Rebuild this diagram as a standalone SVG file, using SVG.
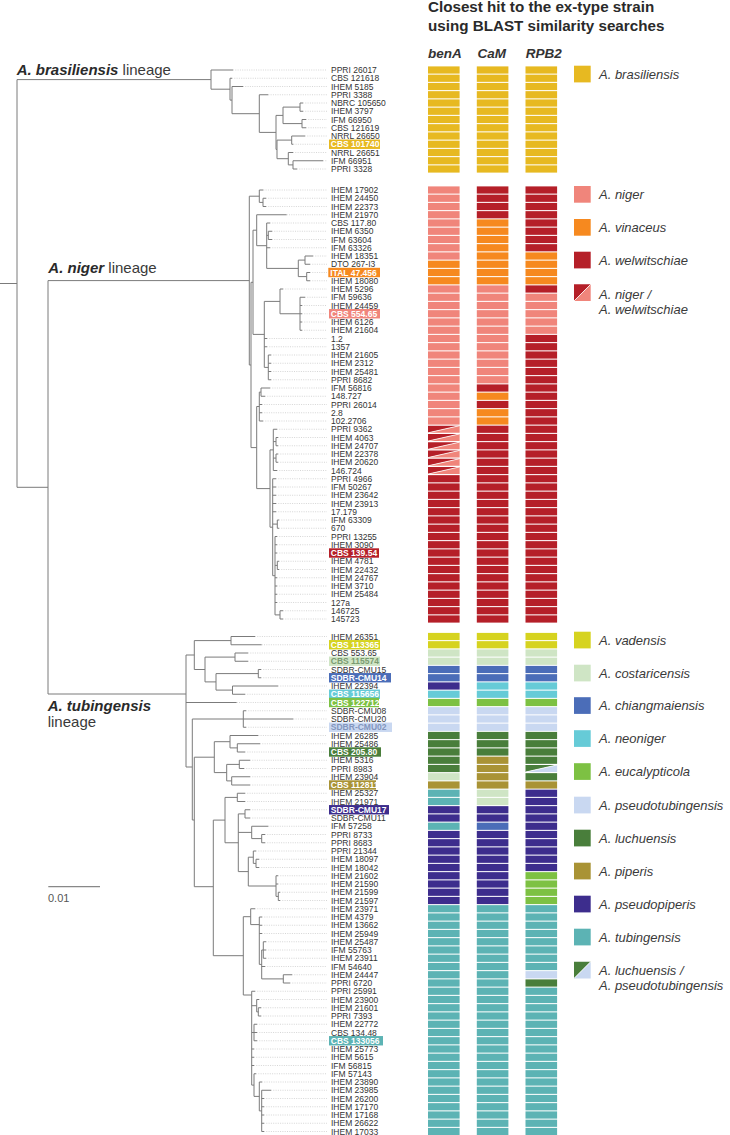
<svg xmlns="http://www.w3.org/2000/svg" xmlns:xlink="http://www.w3.org/1999/xlink" width="730" height="1135" viewBox="0 0 730 1135">
<style>
.br{fill:none;stroke:#7b7b7b;stroke-width:1}
.dt{fill:none;stroke:#c4c4c4;stroke-width:0.7;stroke-dasharray:1 1.3}
text.l{font-family:"Liberation Sans",Arial,sans-serif;font-size:8.5px;fill:#333}
text.h{font-weight:bold;fill:#fff}
.lg{font-family:"Liberation Sans",Arial,sans-serif;font-size:13px;font-style:italic;fill:#3a3a3a}
.hd{font-family:"Liberation Sans",Arial,sans-serif;font-size:15.2px;font-weight:bold;fill:#2a2a2a}
.ch2{font-family:"Liberation Sans",Arial,sans-serif;font-size:13.5px;font-weight:bold;font-style:italic;fill:#333}
.ln{font-family:"Liberation Sans",Arial,sans-serif;font-size:15px;fill:#3a3a3a}
.ln tspan.s{font-weight:bold;font-style:italic;fill:#2a2a2a}
.bra{fill:#E7B921}.N{fill:#F0857B}.V{fill:#F6891F}.W{fill:#B51F28}
.vd{fill:#D6D31F}.co{fill:#CFE5C5}.ch{fill:#4B6DB8}.ne{fill:#66CBD7}.eu{fill:#7DC143}.ps{fill:#C9D8F1}.lu{fill:#497E3B}.pi{fill:#A99335}.pp{fill:#3D2D8D}.tu{fill:#5CB3B4}
</style>
<defs>
<rect id="bA" x="428" y="-3.6" width="31.6" height="7.2"/>
<rect id="bC" x="476.8" y="-3.6" width="31.6" height="7.2"/>
<rect id="bR" x="525.5" y="-3.6" width="31.6" height="7.2"/>
<g id="sA"><polygon points="428,-3.6 459.6,-3.6 428,3.6" class="W"/><polygon points="459.6,-3.6 459.6,3.6 428,3.6" class="N"/><line x1="428" y1="3.6" x2="459.6" y2="-3.6" stroke="#fff" stroke-width="0.8"/></g>
<g id="sR"><polygon points="525.5,-3.6 557.1,-3.6 525.5,3.6" class="lu"/><polygon points="557.1,-3.6 557.1,3.6 525.5,3.6" class="ps"/><line x1="525.5" y1="3.6" x2="557.1" y2="-3.6" stroke="#fff" stroke-width="0.8"/></g>
</defs>

<g id="header">
<text class="hd" x="428" y="12">Closest hit to the ex-type strain</text>
<text class="hd" x="428" y="30.5">using BLAST similarity searches</text>
<text class="ch2" x="428" y="57.5">benA</text>
<text class="ch2" x="477.5" y="57.5">CaM</text>
<text class="ch2" x="525.7" y="57.5">RPB2</text>
</g>

<g id="lineages">
<text class="ln" x="16.7" y="74.5"><tspan class="s">A. brasiliensis</tspan> lineage</text>
<text class="ln" x="48.3" y="272.5"><tspan class="s">A. niger</tspan> lineage</text>
<text class="ln" x="47.7" y="711"><tspan class="s">A. tubingensis</tspan></text>
<text class="ln" x="47.7" y="726.5">lineage</text>
</g>

<g id="scalebar">
<path d="M48.3,886.7H100" stroke="#888" stroke-width="1.3"/>
<text x="48" y="902" font-family="Liberation Sans, Arial, sans-serif" font-size="11" fill="#555">0.01</text>
</g>

<g id="connectors">
<path class="br" d="M0,283.5H17M17,79.6V487.3M17,79.6H211M17,487.3H48M48,280.6V694M48,280.6H249.3M48,694H186
M211,70V89.2M211,70H233M211,89.2H230M230,78.25V100.1M230,78.25H232M230,100.1H232M232,86.5V113.7M232,86.5H243M232,113.7H259.3M259.3,94.75V132.4M259.3,94.75H268.3M259.3,132.4H276M276,115.4V149.4M276,115.4H283M276,149.4H277M283,107.1V123.6M283,107.1H300M283,123.6H302M300,103V111.25M300,103H303M300,111.25H303M302,119.5V127.75M302,119.5H306M302,127.75H306M277,140.1V158.7M277,140.1H291.7M277,158.7H288.3M291.7,136V144.25M291.7,136H305M291.7,144.25H293.3M288.3,152.5V164.9M288.3,152.5H293M288.3,164.9H293M293,160.75V169M293,160.75H323M293,169H297
M249.3,196.2V365M249.3,196.2H259.3M249.3,365H251M259.3,190V202.4M259.3,190H263.3M259.3,202.4H263M263,198.25V206.5M263,198.25H266M263,206.5H266M251,282.3V447.6M251,282.3H253M251,447.6H256.7M253,230.2V334.4M253,230.2H256.7M253,334.4H264.3M256.7,214.75V245.7M256.7,214.75H286.7M256.7,245.7H266.7M266.7,223V268.4M266.7,223H270M266.7,235.4H268.3M266.7,247.75H270M266.7,268.4H298.3M268.3,231.25V239.5M268.3,231.25H272M268.3,239.5H272M298.3,260.1V276.6M298.3,260.1H305M298.3,276.6H306.7M305,256V264.25M305,256H313M305,264.25H310M306.7,272.5V280.75M306.7,272.5H310M306.7,280.75H310M264.3,301.4V367.4M264.3,301.4H280M264.3,338.5H267M264.3,346.75H267M264.3,367.4H268.3M280,289V313.75M280,289H283M280,313.75H300M300,297.25V330.25M300,297.25H305M300,305.5H302M300,313.75H302M300,322H302M300,330.25H302M268.3,355V379.75M268.3,355H271M268.3,363.25H271M268.3,371.5H271M268.3,379.75H271M256.7,406.5V488.6M256.7,406.5H259.3M256.7,488.6H270M259.3,392.1V421M259.3,392.1H261M259.3,404.5H262M259.3,412.75H262M259.3,421H263M261,388V396.25M261,388H270M261,396.25H265M270,449.9V527.2M270,449.9H273.3M270,527.2H272.7M273.3,429.25V470.5M273.3,429.25H277M273.3,441.6H276M273.3,458.1H276M273.3,470.5H277M276,437.5V445.75M276,437.5H278M276,445.75H278M276,454V462.25M276,454H278M276,462.25H278M272.7,478.75V575.7M272.7,478.75H276M272.7,487H276M272.7,495.25H276M272.7,503.5H276M272.7,511.75H276M272.7,524.1H277.3M272.7,575.7H275M277.3,520V528.25M277.3,520H279M277.3,528.25H279M275,536.5V614.9M275,536.5H277M275,544.75H277M275,553H277M275,565.4H277.3M275,577.75H277M275,586H277M275,594.25H277M275,602.5H277M275,614.9H280M277.3,561.25V569.5M277.3,561.25H279M277.3,569.5H279M280,610.75V619M280,610.75H283M280,619H283
M186,655V767M186,655H194.3M186,702.5H236.7M186,767H192.3M194.3,640.6V669.5M194.3,640.6H231M194.3,669.5H205M231,636.5V644.75M231,636.5H255M231,644.75H261.7M205,657.1V681.9M205,657.1H235M205,681.9H216M235,653V661.25M235,653H248M235,661.25H248M216,673.6V690.1M216,673.6H258.3M216,690.1H232.5M258.3,669.5V677.75M258.3,669.5H261M258.3,677.75H261M232.5,686V694.25M232.5,686H278M232.5,694.25H245
M192.3,719V820M192.3,719H243.3M192.3,820H194.3M243.3,710.75V727.25M243.3,710.75H246M243.3,719H293.3M243.3,727.25H246M194.3,757.2V886.7M194.3,757.2H214.3M194.3,886.7H213.3M214.3,741.7V772.6M214.3,741.7H230M214.3,772.6H226.7M230,735.5V747.9M230,735.5H258.3M230,747.9H237.3M237.3,743.75V752M237.3,743.75H260M237.3,752H245M226.7,764.4V780.9M226.7,764.4H239.3M226.7,780.9H231.7M239.3,760.25V768.5M239.3,760.25H250M239.3,768.5H244M231.7,776.75V785M231.7,776.75H250M231.7,785H250
M213.3,820.1V955.7M213.3,820.1H225M213.3,955.7H243.3M225,797.4V842.75M225,797.4H237.3M225,842.75H238.3M237.3,793.25V801.5M237.3,793.25H245M237.3,801.5H245M238.3,813.9V871.6M238.3,813.9H245M238.3,832.4H251.7M238.3,871.6H248.3M245,809.75V818M245,809.75H250M245,818H250M251.7,826.25V838.6M251.7,826.25H268.3M251.7,838.6H261.7M261.7,834.5V842.75M261.7,834.5H265M261.7,842.75H265M248.3,857.2V886M248.3,857.2H253.3M248.3,886H276M253.3,851V863.4M253.3,851H256M253.3,863.4H256M256,859.25V867.5M256,859.25H259M256,867.5H259M276,875.75V896.4M276,875.75H278M276,884H278M276,896.4H278.3M278.3,892.25V900.5M278.3,892.25H280M278.3,900.5H280
M243.3,916.7V995M243.3,916.7H250.7M243.3,995H251.7M250.7,908.75V924.6M250.7,908.75H255M250.7,924.6H259.3M259.3,917V964.4M259.3,917H262M259.3,925.25H262M259.3,933.5H262M259.3,964.4H261.7M261.7,950V978.9M261.7,950H263.3M261.7,966.5H265M261.7,978.9H283.3M263.3,941.75V958.25M263.3,941.75H266M263.3,950H266M263.3,958.25H266M283.3,974.75V983M283.3,974.75H292M283.3,983H290
M251.7,991.25V1085.1M251.7,991.25H255M251.7,1005.7H256.7M251.7,1032.5H254M251.7,1049H254M251.7,1057.25H254M251.7,1065.5H254M251.7,1085.1H254M256.7,999.5V1011.9M256.7,999.5H259M256.7,1011.9H258.3M258.3,1007.75V1016M258.3,1007.75H261M258.3,1016H261M254,1024.25V1040.75M254,1024.25H257M254,1032.5H257M254,1040.75H257M254,1073.75V1096.4M254,1073.75H256M254,1096.4H259.3M259.3,1082V1110.9M259.3,1082H262M259.3,1110.9H261.7M261.7,1090.25V1131.5M261.7,1090.25H271M261.7,1098.5H264M261.7,1106.75H264M261.7,1115H264M261.7,1123.25H264M261.7,1131.5H264"/>
<path class="dt" d="M233,70H327M232,78.25H327M243,86.5H327M268.3,94.75H327M303,103H327M303,111.25H327M306,119.5H327M306,127.75H327M305,136H327M293.3,144.25H327M293,152.5H327M323,160.75H327M297,169H327
M263.3,190H327M266,198.25H327M266,206.5H327M286.7,214.75H327M270,223H327M272,231.25H327M272,239.5H327M270,247.75H327M313,256H327M310,264.25H327M310,272.5H327M310,280.75H327M283,289H327M305,297.25H327M302,305.5H327M302,313.75H327M302,322H327M302,330.25H327M267,338.5H327M267,346.75H327M271,355H327M271,363.25H327M271,371.5H327M271,379.75H327M270,388H327M265,396.25H327M262,404.5H327M262,412.75H327M263,421H327M277,429.25H327M278,437.5H327M278,445.75H327M278,454H327M278,462.25H327M277,470.5H327M276,478.75H327M276,487H327M276,495.25H327M276,503.5H327M276,511.75H327M279,520H327M279,528.25H327M277,536.5H327M277,544.75H327M277,553H327M279,561.25H327M279,569.5H327M277,577.75H327M277,586H327M277,594.25H327M277,602.5H327M283,610.75H327M283,619H327
M255,636.5H327M261.7,644.75H327M248,653H327M248,661.25H327M261,669.5H327M261,677.75H327M278,686H327M245,694.25H327M236.7,702.5H327M246,710.75H327M293.3,719H327M246,727.25H327M258.3,735.5H327M260,743.75H327M245,752H327M250,760.25H327M244,768.5H327M250,776.75H327M250,785H327M245,793.25H327M245,801.5H327M250,809.75H327M250,818H327M268.3,826.25H327M265,834.5H327M265,842.75H327M256,851H327M259,859.25H327M259,867.5H327M278,875.75H327M278,884H327M280,892.25H327M280,900.5H327M255,908.75H327M262,917H327M262,925.25H327M262,933.5H327M266,941.75H327M266,950H327M266,958.25H327M265,966.5H327M292,974.75H327M290,983H327M255,991.25H327M259,999.5H327M261,1007.75H327M261,1016H327M257,1024.25H327M257,1032.5H327M257,1040.75H327M254,1049H327M254,1057.25H327M254,1065.5H327M256,1073.75H327M262,1082H327M271,1090.25H327M264,1098.5H327M264,1106.75H327M264,1115H327M264,1123.25H327M264,1131.5H327"/>
</g>

<g id="legend">
<rect x="574" y="65.7" width="16.7" height="16.7" class="bra"/><text class="lg" x="599" y="78.5">A. brasiliensis</text>
<rect x="574" y="186" width="16.7" height="16.7" class="N"/><text class="lg" x="599" y="198.8">A. niger</text>
<rect x="574" y="219" width="16.7" height="16.7" class="V"/><text class="lg" x="599" y="231.8">A. vinaceus</text>
<rect x="574" y="251.7" width="16.7" height="16.7" class="W"/><text class="lg" x="599" y="264.5">A. welwitschiae</text>
<polygon points="574,284.3 590.7,284.3 574,301" class="W"/><polygon points="590.7,284.3 590.7,301 574,301" class="N"/><line x1="574" y1="301" x2="590.7" y2="284.3" stroke="#fff" stroke-width="0.8"/>
<text class="lg" x="599" y="298.8">A. niger /</text><text class="lg" x="599" y="313.8">A. welwitschiae</text>
<rect x="574" y="631.7" width="16.7" height="16.7" class="vd"/><text class="lg" x="599" y="644.5">A. vadensis</text>
<rect x="574" y="664.7" width="16.7" height="16.7" class="co"/><text class="lg" x="599" y="677.5">A. costaricensis</text>
<rect x="574" y="697.2" width="16.7" height="16.7" class="ch"/><text class="lg" x="599" y="710">A. chiangmaiensis</text>
<rect x="574" y="730.2" width="16.7" height="16.7" class="ne"/><text class="lg" x="599" y="743">A. neoniger</text>
<rect x="574" y="763.2" width="16.7" height="16.7" class="eu"/><text class="lg" x="599" y="776">A. eucalypticola</text>
<rect x="574" y="796.7" width="16.7" height="16.7" class="ps"/><text class="lg" x="599" y="809.5">A. pseudotubingensis</text>
<rect x="574" y="829.7" width="16.7" height="16.7" class="lu"/><text class="lg" x="599" y="842.5">A. luchuensis</text>
<rect x="574" y="862.7" width="16.7" height="16.7" class="pi"/><text class="lg" x="599" y="875.5">A. piperis</text>
<rect x="574" y="895.7" width="16.7" height="16.7" class="pp"/><text class="lg" x="599" y="908.5">A. pseudopiperis</text>
<rect x="574" y="928.7" width="16.7" height="16.7" class="tu"/><text class="lg" x="599" y="941.5">A. tubingensis</text>
<polygon points="574,961.7 590.7,961.7 574,978.4" class="lu"/><polygon points="590.7,961.7 590.7,978.4 574,978.4" class="ps"/><line x1="574" y1="978.4" x2="590.7" y2="961.7" stroke="#fff" stroke-width="0.8"/>
<text class="lg" x="599" y="974.5">A. luchuensis /</text><text class="lg" x="599" y="990">A. pseudotubingensis</text>
</g>

<g id="brasiliensis-strains">
<g id="b01" transform="translate(0,70)"><text class="l" x="331" y="3">PPRI 26017</text><use href="#bA" class="bra"/><use href="#bC" class="bra"/><use href="#bR" class="bra"/></g>
<g id="b02" transform="translate(0,78.25)"><text class="l" x="331" y="3">CBS 121618</text><use href="#bA" class="bra"/><use href="#bC" class="bra"/><use href="#bR" class="bra"/></g>
<g id="b03" transform="translate(0,86.5)"><text class="l" x="331" y="3">IHEM 5185</text><use href="#bA" class="bra"/><use href="#bC" class="bra"/><use href="#bR" class="bra"/></g>
<g id="b04" transform="translate(0,94.75)"><text class="l" x="331" y="3">PPRI 3388</text><use href="#bA" class="bra"/><use href="#bC" class="bra"/><use href="#bR" class="bra"/></g>
<g id="b05" transform="translate(0,103)"><text class="l" x="331" y="3">NBRC 105650</text><use href="#bA" class="bra"/><use href="#bC" class="bra"/><use href="#bR" class="bra"/></g>
<g id="b06" transform="translate(0,111.25)"><text class="l" x="331" y="3">IHEM 3797</text><use href="#bA" class="bra"/><use href="#bC" class="bra"/><use href="#bR" class="bra"/></g>
<g id="b07" transform="translate(0,119.5)"><text class="l" x="331" y="3">IFM 66950</text><use href="#bA" class="bra"/><use href="#bC" class="bra"/><use href="#bR" class="bra"/></g>
<g id="b08" transform="translate(0,127.75)"><text class="l" x="331" y="3">CBS 121619</text><use href="#bA" class="bra"/><use href="#bC" class="bra"/><use href="#bR" class="bra"/></g>
<g id="b09" transform="translate(0,136)"><text class="l" x="331" y="3">NRRL 26650</text><use href="#bA" class="bra"/><use href="#bC" class="bra"/><use href="#bR" class="bra"/></g>
<g id="b10" transform="translate(0,144.25)"><rect x="329" y="-4.7" width="51" height="9.4" class="bra"/><text class="l h" x="330.8" y="3">CBS 101740</text><use href="#bA" class="bra"/><use href="#bC" class="bra"/><use href="#bR" class="bra"/></g>
<g id="b11" transform="translate(0,152.5)"><text class="l" x="331" y="3">NRRL 26651</text><use href="#bA" class="bra"/><use href="#bC" class="bra"/><use href="#bR" class="bra"/></g>
<g id="b12" transform="translate(0,160.75)"><text class="l" x="331" y="3">IFM 66951</text><use href="#bA" class="bra"/><use href="#bC" class="bra"/><use href="#bR" class="bra"/></g>
<g id="b13" transform="translate(0,169)"><text class="l" x="331" y="3">PPRI 3328</text><use href="#bA" class="bra"/><use href="#bC" class="bra"/><use href="#bR" class="bra"/></g>
</g>

<g id="niger-strains">
<g id="n01" transform="translate(0,190)"><text class="l" x="331" y="3">IHEM 17902</text><use href="#bA" class="N"/><use href="#bC" class="W"/><use href="#bR" class="W"/></g>
<g id="n02" transform="translate(0,198.25)"><text class="l" x="331" y="3">IHEM 24450</text><use href="#bA" class="N"/><use href="#bC" class="W"/><use href="#bR" class="W"/></g>
<g id="n03" transform="translate(0,206.5)"><text class="l" x="331" y="3">IHEM 22373</text><use href="#bA" class="N"/><use href="#bC" class="W"/><use href="#bR" class="W"/></g>
<g id="n04" transform="translate(0,214.75)"><text class="l" x="331" y="3">IHEM 21970</text><use href="#bA" class="N"/><use href="#bC" class="W"/><use href="#bR" class="W"/></g>
<g id="n05" transform="translate(0,223)"><text class="l" x="331" y="3">CBS 117.80</text><use href="#bA" class="N"/><use href="#bC" class="V"/><use href="#bR" class="W"/></g>
<g id="n06" transform="translate(0,231.25)"><text class="l" x="331" y="3">IHEM 6350</text><use href="#bA" class="N"/><use href="#bC" class="V"/><use href="#bR" class="W"/></g>
<g id="n07" transform="translate(0,239.5)"><text class="l" x="331" y="3">IFM 63604</text><use href="#bA" class="N"/><use href="#bC" class="V"/><use href="#bR" class="W"/></g>
<g id="n08" transform="translate(0,247.75)"><text class="l" x="331" y="3">IFM 63326</text><use href="#bA" class="N"/><use href="#bC" class="V"/><use href="#bR" class="W"/></g>
<g id="n09" transform="translate(0,256)"><text class="l" x="331" y="3">IHEM 18351</text><use href="#bA" class="N"/><use href="#bC" class="V"/><use href="#bR" class="V"/></g>
<g id="n10" transform="translate(0,264.25)"><text class="l" x="331" y="3">DTO 267-I3</text><use href="#bA" class="V"/><use href="#bC" class="V"/><use href="#bR" class="V"/></g>
<g id="n11" transform="translate(0,272.5)"><rect x="328.3" y="-4.7" width="51.7" height="9.4" class="V"/><text class="l h" x="330.3" y="3">ITAL 47.456</text><use href="#bA" class="V"/><use href="#bC" class="V"/><use href="#bR" class="V"/></g>
<g id="n12" transform="translate(0,280.75)"><text class="l" x="331" y="3">IHEM 18080</text><use href="#bA" class="V"/><use href="#bC" class="V"/><use href="#bR" class="V"/></g>
<g id="n13" transform="translate(0,289)"><text class="l" x="331" y="3">IHEM 5296</text><use href="#bA" class="N"/><use href="#bC" class="N"/><use href="#bR" class="W"/></g>
<g id="n14" transform="translate(0,297.25)"><text class="l" x="331" y="3">IFM 59636</text><use href="#bA" class="N"/><use href="#bC" class="N"/><use href="#bR" class="N"/></g>
<g id="n15" transform="translate(0,305.5)"><text class="l" x="331" y="3">IHEM 24459</text><use href="#bA" class="N"/><use href="#bC" class="N"/><use href="#bR" class="N"/></g>
<g id="n16" transform="translate(0,313.75)"><rect x="329" y="-4.7" width="51" height="9.4" class="N"/><text class="l h" x="330.8" y="3">CBS 554.65</text><use href="#bA" class="N"/><use href="#bC" class="N"/><use href="#bR" class="N"/></g>
<g id="n17" transform="translate(0,322)"><text class="l" x="331" y="3">IHEM 6126</text><use href="#bA" class="N"/><use href="#bC" class="N"/><use href="#bR" class="N"/></g>
<g id="n18" transform="translate(0,330.25)"><text class="l" x="331" y="3">IHEM 21604</text><use href="#bA" class="N"/><use href="#bC" class="N"/><use href="#bR" class="N"/></g>
<g id="n19" transform="translate(0,338.5)"><text class="l" x="331" y="3">1.2</text><use href="#bA" class="N"/><use href="#bC" class="N"/><use href="#bR" class="W"/></g>
<g id="n20" transform="translate(0,346.75)"><text class="l" x="331" y="3">1357</text><use href="#bA" class="N"/><use href="#bC" class="N"/><use href="#bR" class="W"/></g>
<g id="n21" transform="translate(0,355)"><text class="l" x="331" y="3">IHEM 21605</text><use href="#bA" class="N"/><use href="#bC" class="N"/><use href="#bR" class="W"/></g>
<g id="n22" transform="translate(0,363.25)"><text class="l" x="331" y="3">IHEM 2312</text><use href="#bA" class="N"/><use href="#bC" class="N"/><use href="#bR" class="W"/></g>
<g id="n23" transform="translate(0,371.5)"><text class="l" x="331" y="3">IHEM 25481</text><use href="#bA" class="N"/><use href="#bC" class="N"/><use href="#bR" class="W"/></g>
<g id="n24" transform="translate(0,379.75)"><text class="l" x="331" y="3">PPRI 8682</text><use href="#bA" class="N"/><use href="#bC" class="N"/><use href="#bR" class="W"/></g>
<g id="n25" transform="translate(0,388)"><text class="l" x="331" y="3">IFM 56816</text><use href="#bA" class="N"/><use href="#bC" class="W"/><use href="#bR" class="W"/></g>
<g id="n26" transform="translate(0,396.25)"><text class="l" x="331" y="3">148.727</text><use href="#bA" class="N"/><use href="#bC" class="V"/><use href="#bR" class="W"/></g>
<g id="n27" transform="translate(0,404.5)"><text class="l" x="331" y="3">PPRI 26014</text><use href="#bA" class="N"/><use href="#bC" class="W"/><use href="#bR" class="W"/></g>
<g id="n28" transform="translate(0,412.75)"><text class="l" x="331" y="3">2.8</text><use href="#bA" class="N"/><use href="#bC" class="V"/><use href="#bR" class="W"/></g>
<g id="n29" transform="translate(0,421)"><text class="l" x="331" y="3">102.2706</text><use href="#bA" class="N"/><use href="#bC" class="V"/><use href="#bR" class="W"/></g>
<g id="n30" transform="translate(0,429.25)"><text class="l" x="331" y="3">PPRI 9362</text><use href="#sA"/><use href="#bC" class="W"/><use href="#bR" class="W"/></g>
<g id="n31" transform="translate(0,437.5)"><text class="l" x="331" y="3">IHEM 4063</text><use href="#sA"/><use href="#bC" class="W"/><use href="#bR" class="W"/></g>
<g id="n32" transform="translate(0,445.75)"><text class="l" x="331" y="3">IHEM 24707</text><use href="#sA"/><use href="#bC" class="W"/><use href="#bR" class="W"/></g>
<g id="n33" transform="translate(0,454)"><text class="l" x="331" y="3">IHEM 22378</text><use href="#sA"/><use href="#bC" class="W"/><use href="#bR" class="W"/></g>
<g id="n34" transform="translate(0,462.25)"><text class="l" x="331" y="3">IHEM 20620</text><use href="#sA"/><use href="#bC" class="W"/><use href="#bR" class="W"/></g>
<g id="n35" transform="translate(0,470.5)"><text class="l" x="331" y="3">146.724</text><use href="#sA"/><use href="#bC" class="W"/><use href="#bR" class="W"/></g>
<g id="n36" transform="translate(0,478.75)"><text class="l" x="331" y="3">PPRI 4966</text><use href="#bA" class="W"/><use href="#bC" class="W"/><use href="#bR" class="W"/></g>
<g id="n37" transform="translate(0,487)"><text class="l" x="331" y="3">IFM 50267</text><use href="#bA" class="W"/><use href="#bC" class="W"/><use href="#bR" class="W"/></g>
<g id="n38" transform="translate(0,495.25)"><text class="l" x="331" y="3">IHEM 23642</text><use href="#bA" class="W"/><use href="#bC" class="W"/><use href="#bR" class="W"/></g>
<g id="n39" transform="translate(0,503.5)"><text class="l" x="331" y="3">IHEM 23913</text><use href="#bA" class="W"/><use href="#bC" class="W"/><use href="#bR" class="W"/></g>
<g id="n40" transform="translate(0,511.75)"><text class="l" x="331" y="3">17.179</text><use href="#bA" class="W"/><use href="#bC" class="W"/><use href="#bR" class="W"/></g>
<g id="n41" transform="translate(0,520)"><text class="l" x="331" y="3">IFM 63309</text><use href="#bA" class="W"/><use href="#bC" class="W"/><use href="#bR" class="W"/></g>
<g id="n42" transform="translate(0,528.25)"><text class="l" x="331" y="3">670</text><use href="#bA" class="W"/><use href="#bC" class="W"/><use href="#bR" class="W"/></g>
<g id="n43" transform="translate(0,536.5)"><text class="l" x="331" y="3">PPRI 13255</text><use href="#bA" class="W"/><use href="#bC" class="W"/><use href="#bR" class="W"/></g>
<g id="n44" transform="translate(0,544.75)"><text class="l" x="331" y="3">IHEM 3090</text><use href="#bA" class="W"/><use href="#bC" class="W"/><use href="#bR" class="W"/></g>
<g id="n45" transform="translate(0,553)"><rect x="329" y="-4.7" width="50" height="9.4" class="W"/><text class="l h" x="330.8" y="3">CBS 139.54</text><use href="#bA" class="W"/><use href="#bC" class="W"/><use href="#bR" class="W"/></g>
<g id="n46" transform="translate(0,561.25)"><text class="l" x="331" y="3">IHEM 4781</text><use href="#bA" class="W"/><use href="#bC" class="W"/><use href="#bR" class="W"/></g>
<g id="n47" transform="translate(0,569.5)"><text class="l" x="331" y="3">IHEM 22432</text><use href="#bA" class="W"/><use href="#bC" class="W"/><use href="#bR" class="W"/></g>
<g id="n48" transform="translate(0,577.75)"><text class="l" x="331" y="3">IHEM 24767</text><use href="#bA" class="W"/><use href="#bC" class="W"/><use href="#bR" class="W"/></g>
<g id="n49" transform="translate(0,586)"><text class="l" x="331" y="3">IHEM 3710</text><use href="#bA" class="W"/><use href="#bC" class="W"/><use href="#bR" class="W"/></g>
<g id="n50" transform="translate(0,594.25)"><text class="l" x="331" y="3">IHEM 25484</text><use href="#bA" class="W"/><use href="#bC" class="W"/><use href="#bR" class="W"/></g>
<g id="n51" transform="translate(0,602.5)"><text class="l" x="331" y="3">127a</text><use href="#bA" class="W"/><use href="#bC" class="W"/><use href="#bR" class="W"/></g>
<g id="n52" transform="translate(0,610.75)"><text class="l" x="331" y="3">146725</text><use href="#bA" class="W"/><use href="#bC" class="W"/><use href="#bR" class="W"/></g>
<g id="n53" transform="translate(0,619)"><text class="l" x="331" y="3">145723</text><use href="#bA" class="W"/><use href="#bC" class="W"/><use href="#bR" class="W"/></g>
</g>

<g id="tubingensis-strains">
<g id="t01" transform="translate(0,636.5)"><text class="l" x="331" y="3">IHEM 26351</text><use href="#bA" class="vd"/><use href="#bC" class="vd"/><use href="#bR" class="vd"/></g>
<g id="t02" transform="translate(0,644.75)"><rect x="329" y="-4.7" width="51" height="9.4" class="vd"/><text class="l h" x="330.8" y="3">CBS 113365</text><use href="#bA" class="vd"/><use href="#bC" class="vd"/><use href="#bR" class="vd"/></g>
<g id="t03" transform="translate(0,653)"><text class="l" x="331" y="3">CBS 553.65</text><use href="#bA" class="co"/><use href="#bC" class="co"/><use href="#bR" class="co"/></g>
<g id="t04" transform="translate(0,661.25)"><rect x="329" y="-4.7" width="51" height="9.4" class="co"/><text class="l h" x="330.8" y="3" style="fill:#7a9a70">CBS 115574</text><use href="#bA" class="co"/><use href="#bC" class="co"/><use href="#bR" class="co"/></g>
<g id="t05" transform="translate(0,669.5)"><text class="l" x="331" y="3">SDBR-CMU15</text><use href="#bA" class="ch"/><use href="#bC" class="ch"/><use href="#bR" class="ch"/></g>
<g id="t06" transform="translate(0,677.75)"><rect x="329" y="-4.7" width="62" height="9.4" class="ch"/><text class="l h" x="330.8" y="3">SDBR-CMU14</text><use href="#bA" class="ch"/><use href="#bC" class="ch"/><use href="#bR" class="ch"/></g>
<g id="t07" transform="translate(0,686)"><text class="l" x="331" y="3">IHEM 22394</text><use href="#bA" class="pp"/><use href="#bC" class="ne"/><use href="#bR" class="ne"/></g>
<g id="t08" transform="translate(0,694.25)"><rect x="329" y="-4.7" width="51" height="9.4" class="ne"/><text class="l h" x="330.8" y="3">CBS 115656</text><use href="#bA" class="ne"/><use href="#bC" class="ne"/><use href="#bR" class="ne"/></g>
<g id="t09" transform="translate(0,702.5)"><rect x="329" y="-4.7" width="50" height="9.4" class="eu"/><text class="l h" x="330.8" y="3">CBS 122712</text><use href="#bA" class="eu"/><use href="#bC" class="eu"/><use href="#bR" class="eu"/></g>
<g id="t10" transform="translate(0,710.75)"><text class="l" x="331" y="3">SDBR-CMU08</text><use href="#bA" class="ps"/><use href="#bC" class="ps"/><use href="#bR" class="ps"/></g>
<g id="t11" transform="translate(0,719)"><text class="l" x="331" y="3">SDBR-CMU20</text><use href="#bA" class="ps"/><use href="#bC" class="ps"/><use href="#bR" class="ps"/></g>
<g id="t12" transform="translate(0,727.25)"><rect x="329" y="-4.7" width="63" height="9.4" class="ps"/><text class="l h" x="330.8" y="3" style="fill:#8295bd">SDBR-CMU02</text><use href="#bA" class="ps"/><use href="#bC" class="ps"/><use href="#bR" class="ps"/></g>
<g id="t13" transform="translate(0,735.5)"><text class="l" x="331" y="3">IHEM 26285</text><use href="#bA" class="lu"/><use href="#bC" class="lu"/><use href="#bR" class="lu"/></g>
<g id="t14" transform="translate(0,743.75)"><text class="l" x="331" y="3">IHEM 25486</text><use href="#bA" class="lu"/><use href="#bC" class="lu"/><use href="#bR" class="lu"/></g>
<g id="t15" transform="translate(0,752)"><rect x="329" y="-4.7" width="52" height="9.4" class="lu"/><text class="l h" x="330.8" y="3">CBS 205.80</text><use href="#bA" class="lu"/><use href="#bC" class="lu"/><use href="#bR" class="lu"/></g>
<g id="t16" transform="translate(0,760.25)"><text class="l" x="331" y="3">IHEM 5316</text><use href="#bA" class="lu"/><use href="#bC" class="pi"/><use href="#bR" class="lu"/></g>
<g id="t17" transform="translate(0,768.5)"><text class="l" x="331" y="3">PPRI 8983</text><use href="#bA" class="lu"/><use href="#bC" class="pi"/><use href="#sR"/></g>
<g id="t18" transform="translate(0,776.75)"><text class="l" x="331" y="3">IHEM 23904</text><use href="#bA" class="co"/><use href="#bC" class="pi"/><use href="#bR" class="lu"/></g>
<g id="t19" transform="translate(0,785)"><rect x="329" y="-4.7" width="47" height="9.4" class="pi"/><text class="l h" x="330.8" y="3">CBS 112811</text><use href="#bA" class="pi"/><use href="#bC" class="pi"/><use href="#bR" class="pi"/></g>
<g id="t20" transform="translate(0,793.25)"><text class="l" x="331" y="3">IHEM 25327</text><use href="#bA" class="tu"/><use href="#bC" class="co"/><use href="#bR" class="pp"/></g>
<g id="t21" transform="translate(0,801.5)"><text class="l" x="331" y="3">IHEM 21971</text><use href="#bA" class="tu"/><use href="#bC" class="co"/><use href="#bR" class="pp"/></g>
<g id="t22" transform="translate(0,809.75)"><rect x="329" y="-4.7" width="60" height="9.4" class="pp"/><text class="l h" x="330.8" y="3">SDBR-CMU17</text><use href="#bA" class="pp"/><use href="#bC" class="pp"/><use href="#bR" class="pp"/></g>
<g id="t23" transform="translate(0,818)"><text class="l" x="331" y="3">SDBR-CMU11</text><use href="#bA" class="pp"/><use href="#bC" class="pp"/><use href="#bR" class="pp"/></g>
<g id="t24" transform="translate(0,826.25)"><text class="l" x="331" y="3">IFM 57258</text><use href="#bA" class="tu"/><use href="#bC" class="ch"/><use href="#bR" class="pp"/></g>
<g id="t25" transform="translate(0,834.5)"><text class="l" x="331" y="3">PPRI 8733</text><use href="#bA" class="pp"/><use href="#bC" class="pp"/><use href="#bR" class="pp"/></g>
<g id="t26" transform="translate(0,842.75)"><text class="l" x="331" y="3">PPRI 8683</text><use href="#bA" class="pp"/><use href="#bC" class="pp"/><use href="#bR" class="pp"/></g>
<g id="t27" transform="translate(0,851)"><text class="l" x="331" y="3">PPRI 21344</text><use href="#bA" class="pp"/><use href="#bC" class="pp"/><use href="#bR" class="pp"/></g>
<g id="t28" transform="translate(0,859.25)"><text class="l" x="331" y="3">IHEM 18097</text><use href="#bA" class="pp"/><use href="#bC" class="pp"/><use href="#bR" class="pp"/></g>
<g id="t29" transform="translate(0,867.5)"><text class="l" x="331" y="3">IHEM 18042</text><use href="#bA" class="pp"/><use href="#bC" class="pp"/><use href="#bR" class="pp"/></g>
<g id="t30" transform="translate(0,875.75)"><text class="l" x="331" y="3">IHEM 21602</text><use href="#bA" class="pp"/><use href="#bC" class="pp"/><use href="#bR" class="eu"/></g>
<g id="t31" transform="translate(0,884)"><text class="l" x="331" y="3">IHEM 21590</text><use href="#bA" class="pp"/><use href="#bC" class="pp"/><use href="#bR" class="eu"/></g>
<g id="t32" transform="translate(0,892.25)"><text class="l" x="331" y="3">IHEM 21599</text><use href="#bA" class="pp"/><use href="#bC" class="pp"/><use href="#bR" class="eu"/></g>
<g id="t33" transform="translate(0,900.5)"><text class="l" x="331" y="3">IHEM 21597</text><use href="#bA" class="pp"/><use href="#bC" class="pp"/><use href="#bR" class="eu"/></g>
<g id="t34" transform="translate(0,908.75)"><text class="l" x="331" y="3">IHEM 23971</text><use href="#bA" class="tu"/><use href="#bC" class="tu"/><use href="#bR" class="tu"/></g>
<g id="t35" transform="translate(0,917)"><text class="l" x="331" y="3">IHEM 4379</text><use href="#bA" class="tu"/><use href="#bC" class="tu"/><use href="#bR" class="tu"/></g>
<g id="t36" transform="translate(0,925.25)"><text class="l" x="331" y="3">IHEM 13662</text><use href="#bA" class="tu"/><use href="#bC" class="tu"/><use href="#bR" class="tu"/></g>
<g id="t37" transform="translate(0,933.5)"><text class="l" x="331" y="3">IHEM 25949</text><use href="#bA" class="tu"/><use href="#bC" class="tu"/><use href="#bR" class="tu"/></g>
<g id="t38" transform="translate(0,941.75)"><text class="l" x="331" y="3">IHEM 25487</text><use href="#bA" class="tu"/><use href="#bC" class="tu"/><use href="#bR" class="tu"/></g>
<g id="t39" transform="translate(0,950)"><text class="l" x="331" y="3">IFM 55763</text><use href="#bA" class="tu"/><use href="#bC" class="tu"/><use href="#bR" class="tu"/></g>
<g id="t40" transform="translate(0,958.25)"><text class="l" x="331" y="3">IHEM 23911</text><use href="#bA" class="tu"/><use href="#bC" class="tu"/><use href="#bR" class="tu"/></g>
<g id="t41" transform="translate(0,966.5)"><text class="l" x="331" y="3">IFM 54640</text><use href="#bA" class="tu"/><use href="#bC" class="tu"/><use href="#bR" class="tu"/></g>
<g id="t42" transform="translate(0,974.75)"><text class="l" x="331" y="3">IHEM 24447</text><use href="#bA" class="tu"/><use href="#bC" class="tu"/><use href="#bR" class="ps"/></g>
<g id="t43" transform="translate(0,983)"><text class="l" x="331" y="3">PPRI 6720</text><use href="#bA" class="tu"/><use href="#bC" class="tu"/><use href="#bR" class="lu"/></g>
<g id="t44" transform="translate(0,991.25)"><text class="l" x="331" y="3">PPRI 25991</text><use href="#bA" class="tu"/><use href="#bC" class="tu"/><use href="#bR" class="tu"/></g>
<g id="t45" transform="translate(0,999.5)"><text class="l" x="331" y="3">IHEM 23900</text><use href="#bA" class="tu"/><use href="#bC" class="tu"/><use href="#bR" class="tu"/></g>
<g id="t46" transform="translate(0,1007.75)"><text class="l" x="331" y="3">IHEM 21601</text><use href="#bA" class="tu"/><use href="#bC" class="tu"/><use href="#bR" class="tu"/></g>
<g id="t47" transform="translate(0,1016)"><text class="l" x="331" y="3">PPRI 7393</text><use href="#bA" class="tu"/><use href="#bC" class="tu"/><use href="#bR" class="tu"/></g>
<g id="t48" transform="translate(0,1024.25)"><text class="l" x="331" y="3">IHEM 22772</text><use href="#bA" class="tu"/><use href="#bC" class="tu"/><use href="#bR" class="tu"/></g>
<g id="t49" transform="translate(0,1032.5)"><text class="l" x="331" y="3">CBS 134.48</text><use href="#bA" class="tu"/><use href="#bC" class="tu"/><use href="#bR" class="tu"/></g>
<g id="t50" transform="translate(0,1040.75)"><rect x="329" y="-4.7" width="54" height="9.4" class="tu"/><text class="l h" x="330.8" y="3">CBS 133056</text><use href="#bA" class="tu"/><use href="#bC" class="tu"/><use href="#bR" class="tu"/></g>
<g id="t51" transform="translate(0,1049)"><text class="l" x="331" y="3">IHEM 25773</text><use href="#bA" class="tu"/><use href="#bC" class="tu"/><use href="#bR" class="tu"/></g>
<g id="t52" transform="translate(0,1057.25)"><text class="l" x="331" y="3">IHEM 5615</text><use href="#bA" class="tu"/><use href="#bC" class="tu"/><use href="#bR" class="tu"/></g>
<g id="t53" transform="translate(0,1065.5)"><text class="l" x="331" y="3">IFM 56815</text><use href="#bA" class="tu"/><use href="#bC" class="tu"/><use href="#bR" class="tu"/></g>
<g id="t54" transform="translate(0,1073.75)"><text class="l" x="331" y="3">IFM 57143</text><use href="#bA" class="tu"/><use href="#bC" class="tu"/><use href="#bR" class="tu"/></g>
<g id="t55" transform="translate(0,1082)"><text class="l" x="331" y="3">IHEM 23890</text><use href="#bA" class="tu"/><use href="#bC" class="tu"/><use href="#bR" class="tu"/></g>
<g id="t56" transform="translate(0,1090.25)"><text class="l" x="331" y="3">IHEM 23985</text><use href="#bA" class="tu"/><use href="#bC" class="tu"/><use href="#bR" class="tu"/></g>
<g id="t57" transform="translate(0,1098.5)"><text class="l" x="331" y="3">IHEM 26200</text><use href="#bA" class="tu"/><use href="#bC" class="tu"/><use href="#bR" class="tu"/></g>
<g id="t58" transform="translate(0,1106.75)"><text class="l" x="331" y="3">IHEM 17170</text><use href="#bA" class="tu"/><use href="#bC" class="tu"/><use href="#bR" class="tu"/></g>
<g id="t59" transform="translate(0,1115)"><text class="l" x="331" y="3">IHEM 17168</text><use href="#bA" class="tu"/><use href="#bC" class="tu"/><use href="#bR" class="tu"/></g>
<g id="t60" transform="translate(0,1123.25)"><text class="l" x="331" y="3">IHEM 26622</text><use href="#bA" class="tu"/><use href="#bC" class="tu"/><use href="#bR" class="tu"/></g>
<g id="t61" transform="translate(0,1131.5)"><text class="l" x="331" y="3">IHEM 17033</text><use href="#bA" class="tu"/><use href="#bC" class="tu"/><use href="#bR" class="tu"/></g>
</g>
</svg>
